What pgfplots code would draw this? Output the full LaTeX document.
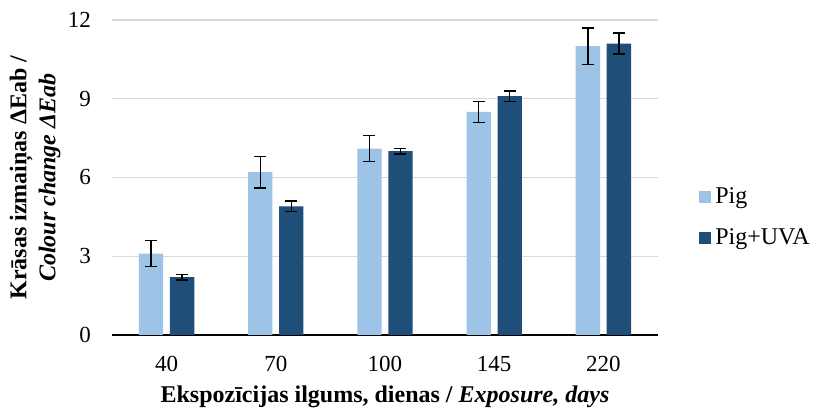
\documentclass[border=0pt]{standalone}
\usepackage{pgfplots}
\pgfplotsset{compat=1.18}
\usepackage{fontspec}
\setmainfont{Liberation Serif}
\definecolor{pig}{HTML}{9DC3E6}
\definecolor{piguva}{HTML}{1F4E79}
\definecolor{gridc}{HTML}{D9D9D9}
\begin{document}
\begin{tikzpicture}
\begin{axis}[
  at={(0,0)}, anchor=south west,
  scale only axis, width=273pt, height=157.5pt,
  ybar=3.35pt, bar width=12.15pt,
  xmin=-0.5, xmax=4.5, ymin=0, ymax=12,
  xtick={0,1,2,3,4}, xticklabels={40,70,100,145,220},
  ytick={0,3,6,9,12},
  ymajorgrids, grid style={gridc, line width=0.6pt},
  axis x line*=bottom, axis y line*=left,
  x axis line style={black, line width=0.6pt, -},
  y axis line style={draw=none},
  major tick length=0pt,
  tick style={draw=none},
  /pgf/number format/assume math mode=true,
  ticklabel style={font=\fontsize{11.5}{13}\selectfont},
  xticklabel style={yshift=-7pt},
  yticklabel style={xshift=-7pt},
  xlabel={\textbf{Ekspozīcijas ilgums, dienas / \textit{Exposure, days}}},
  xlabel style={font=\fontsize{12}{14}\selectfont, at={(axis description cs:0.5,-0.197)}, anchor=center},
  ylabel={\textbf{Krāsas izmaiņas ΔEab /}\\\textbf{\textit{Colour change ΔEab}}},
  ylabel style={font=\fontsize{12}{14.5}\selectfont, align=center, at={(axis description cs:-0.141,0.5)}, anchor=center},
  legend style={at={(1.075,0.373)}, anchor=west, draw=none, fill=none,
    font=\fontsize{12}{14}\selectfont, row sep=7pt, inner sep=0pt,
    cells={anchor=west}},
  legend image code/.code={\fill[#1] (0pt,-3pt) rectangle (6pt,3pt);},
  error bars/error bar style={black, line width=0.7pt},
  error bars/error mark options={rotate=90, mark size=3pt, black, line width=0.7pt},
]
\addplot[fill=pig, draw=none, error bars/.cd, y dir=both, y explicit]
  coordinates {(0,3.1) +- (0,0.5) (1,6.2) +- (0,0.6) (2,7.1) +- (0,0.5) (3,8.5) +- (0,0.4) (4,11.0) +- (0,0.7)};
\addplot[fill=piguva, draw=none, error bars/.cd, y dir=both, y explicit]
  coordinates {(0,2.2) +- (0,0.1) (1,4.9) +- (0,0.2) (2,7.0) +- (0,0.1) (3,9.1) +- (0,0.2) (4,11.1) +- (0,0.4)};
\legend{Pig, Pig+UVA}
\end{axis}
\pgfresetboundingbox
\path[use as bounding box] (-56pt,-38pt) rectangle (351pt,167.5pt);
\end{tikzpicture}
\end{document}
